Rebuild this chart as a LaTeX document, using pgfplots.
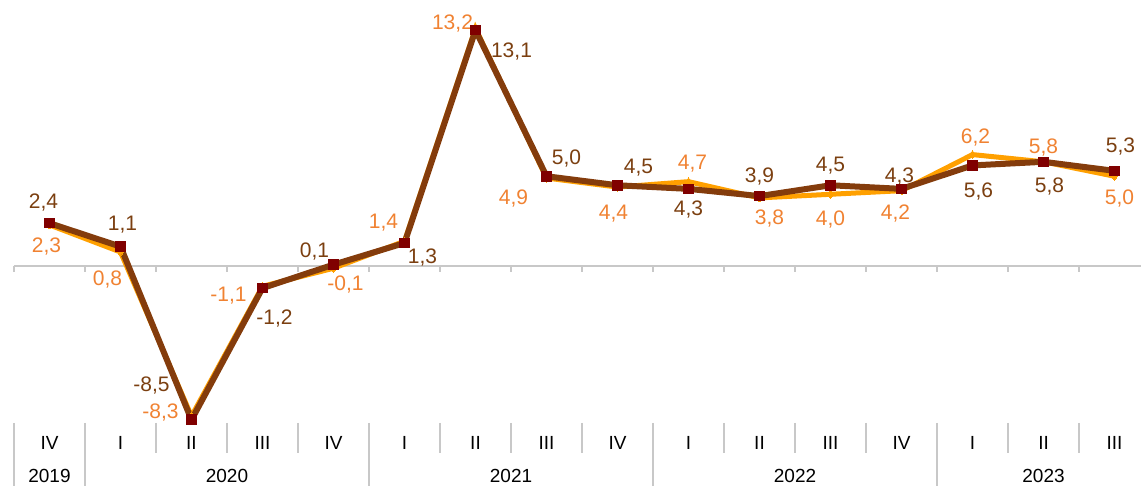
\documentclass[border=0pt]{standalone}
\usepackage{fontspec}
\setmainfont{Liberation Sans}
\usepackage{pgfplots}
\usepackage{pgfplotstable}
\pgfplotsset{compat=1.18}
\definecolor{orLine}{RGB}{255,160,0}
\definecolor{orLab}{RGB}{240,130,50}
\definecolor{brLine}{RGB}{132,60,12}
\definecolor{brLab}{RGB}{123,63,16}
\definecolor{mk}{RGB}{128,0,0}
\definecolor{grid}{RGB}{200,200,200}
\pgfplotstableread{
x y
0 2.3
1 0.8
2 -8.3
3 -1.1
4 -0.1
5 1.4
6 13.2
7 4.9
8 4.4
9 4.7
10 3.8
11 4.0
12 4.2
13 6.2
14 5.8
15 5.0
}\orangedata
\pgfplotstableread{
x y
0 2.4
1 1.1
2 -8.5
3 -1.2
4 0.1
5 1.3
6 13.1
7 5.0
8 4.5
9 4.3
10 3.9
11 4.5
12 4.3
13 5.6
14 5.8
15 5.3
}\browndata
\newcommand{\dlfont}{\fontsize{21}{23}\selectfont}
\newcommand{\axfont}{\fontsize{19}{21}\selectfont}
\newcommand{\lab}[6]{\node[#1,font=\dlfont,inner sep=0pt] at (axis cs:#2,#3) [xshift=#4pt,yshift=#5pt] {#6};}
\begin{document}
\begin{tikzpicture}
\begin{axis}[
  scale only axis, width=1141pt, height=486pt,
  xmin=-0.697, xmax=15.373, ymin=-12.17, ymax=14.77,
  axis lines=none, clip=false, ticks=none,
]
% zero line and ticks
\draw[grid, line width=2pt] (axis cs:-0.5,0) -- (axis cs:15.373,0);
\pgfplotsinvokeforeach{-0.5,0.5,1.5,2.5,3.5,4.5,5.5,6.5,7.5,8.5,9.5,10.5,11.5,12.5,13.5,14.5}{
  \draw[grid, line width=1.5pt] (axis cs:#1,0) -- (axis cs:#1,-0.33);
}
% table separators
\pgfplotsinvokeforeach{1.5,2.5,3.5,5.5,6.5,7.5,9.5,10.5,11.5,13.5,14.5}{
  \draw[grid, line width=2pt] (axis cs:#1,-8.675) -- (axis cs:#1,-10.34);
}
\pgfplotsinvokeforeach{-0.5,0.5,4.5,8.5,12.5}{
  \draw[grid, line width=2pt] (axis cs:#1,-8.675) -- (axis cs:#1,-12.17);
}
% category labels
\node[font=\axfont] at (axis cs:0,-9.78) {IV};
\node[font=\axfont] at (axis cs:1,-9.78) {I};
\node[font=\axfont] at (axis cs:2,-9.78) {II};
\node[font=\axfont] at (axis cs:3,-9.78) {III};
\node[font=\axfont] at (axis cs:4,-9.78) {IV};
\node[font=\axfont] at (axis cs:5,-9.78) {I};
\node[font=\axfont] at (axis cs:6,-9.78) {II};
\node[font=\axfont] at (axis cs:7,-9.78) {III};
\node[font=\axfont] at (axis cs:8,-9.78) {IV};
\node[font=\axfont] at (axis cs:9,-9.78) {I};
\node[font=\axfont] at (axis cs:10,-9.78) {II};
\node[font=\axfont] at (axis cs:11,-9.78) {III};
\node[font=\axfont] at (axis cs:12,-9.78) {IV};
\node[font=\axfont] at (axis cs:13,-9.78) {I};
\node[font=\axfont] at (axis cs:14,-9.78) {II};
\node[font=\axfont] at (axis cs:15,-9.78) {III};
\node[font=\axfont, inner sep=0pt] at (axis cs:0,-11.6) {2019};
\node[font=\axfont, inner sep=0pt] at (axis cs:2.5,-11.6) {2020};
\node[font=\axfont, inner sep=0pt] at (axis cs:6.5,-11.6) {2021};
\node[font=\axfont, inner sep=0pt] at (axis cs:10.5,-11.6) {2022};
\node[font=\axfont, inner sep=0pt] at (axis cs:14,-11.6) {2023};
% series
\addplot[orLine, line width=5pt, mark=diamond*, mark size=4pt, mark options={orLine, line width=0pt}] table[x=x,y=y] {\orangedata};
\addplot[brLine, line width=6pt, line join=round, mark=square*, mark size=4.8pt, mark options={mk, line width=0pt}] table[x=x,y=y] {\browndata};
% brown labels
\lab{brLab}{0}{2.4}{-6}{21}{2,4}
\lab{brLab}{1}{1.1}{2}{22}{1,1}
\lab{brLab}{2}{-8.5}{-40}{34}{-8,5}
\lab{brLab}{3}{-1.2}{12}{-30}{-1,2}
\lab{brLab}{4}{0.1}{-19}{13}{0,1}
\lab{brLab}{5}{1.3}{18}{-15}{1,3}
\lab{brLab}{6}{13.1}{36}{-21}{13,1}
\lab{brLab}{7}{5.0}{20}{18}{5,0}
\lab{brLab}{8}{4.5}{21}{18}{4,5}
\lab{brLab}{9}{4.3}{0}{-21}{4,3}
\lab{brLab}{10}{3.9}{0}{20}{3,9}
\lab{brLab}{11}{4.5}{0}{20}{4,5}
\lab{brLab}{12}{4.3}{-2}{12}{4,3}
\lab{brLab}{13}{5.6}{6}{-26}{5,6}
\lab{brLab}{14}{5.8}{6}{-25}{5,8}
\lab{brLab}{15}{5.3}{6}{24}{5,3}
% orange labels
\lab{orLab}{0}{2.3}{-3}{-22}{2,3}
\lab{orLab}{1}{0.8}{-13}{-27}{0,8}
\lab{orLab}{2}{-8.3}{-31}{4}{-8,3}
\lab{orLab}{3}{-1.1}{-34}{-9}{-1,1}
\lab{orLab}{4}{-0.1}{12}{-16}{-0,1}
\lab{orLab}{5}{1.4}{-21}{19}{1,4}
\lab{orLab}{6}{13.2}{-23}{5}{13,2}
\lab{orLab}{7}{4.9}{-33}{-20}{4,9}
\lab{orLab}{8}{4.4}{-4}{-27}{4,4}
\lab{orLab}{9}{4.7}{4}{18}{4,7}
\lab{orLab}{10}{3.8}{10}{-21}{3,8}
\lab{orLab}{11}{4.0}{0}{-25}{4,0}
\lab{orLab}{12}{4.2}{-6}{-23}{4,2}
\lab{orLab}{13}{6.2}{3}{17}{6,2}
\lab{orLab}{14}{5.8}{0}{14}{5,8}
\lab{orLab}{15}{5.0}{5}{-22}{5,0}
\end{axis}
\pgfresetboundingbox
\path (current axis.south west) rectangle (current axis.north east);
\end{tikzpicture}
\end{document}
